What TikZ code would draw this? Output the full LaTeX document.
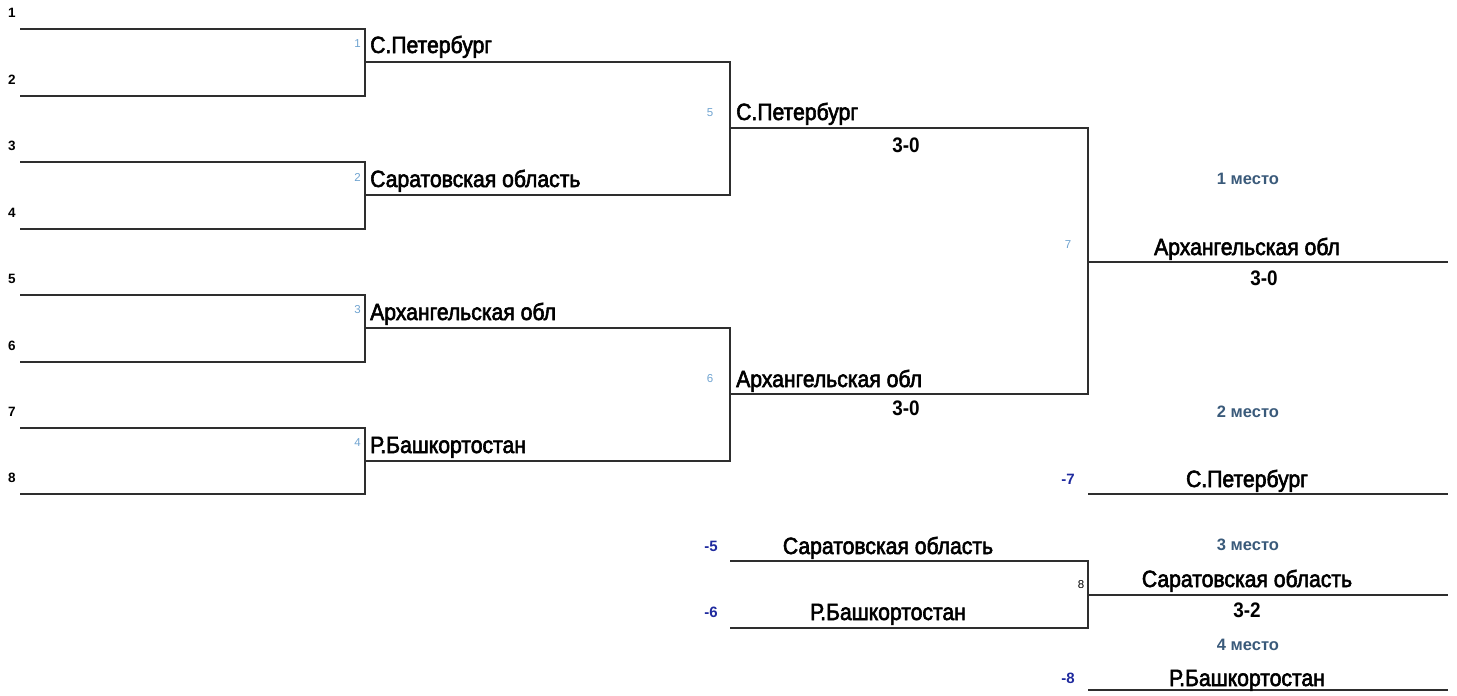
\documentclass[tikz,border=0pt]{standalone}
\usepackage{fontspec}
\setmainfont{Liberation Sans}
\newfontfamily\teamfont[FakeStretch=0.9,FakeBold=2.5]{Liberation Sans}
\newfontfamily\scorefont[FakeStretch=0.9]{Liberation Sans Bold}
\definecolor{ln}{HTML}{2E2E2E}
\definecolor{seedblue}{HTML}{6FA3D0}
\definecolor{placec}{HTML}{3A5A7A}
\definecolor{loserc}{HTML}{1F2A9E}
\begin{document}
\begin{tikzpicture}[x=1pt,y=-1pt,
  br/.style={draw=ln,line width=1.6pt},
  team/.style={inner sep=0pt,font=\teamfont\fontsize{23.5}{26}\selectfont},
  teamw/.style={team,anchor=base west},
  teamc/.style={team,anchor=base},
  score/.style={inner sep=0pt,font=\scorefont\fontsize{21}{24}\selectfont},
  seed/.style={inner sep=0pt,font=\bfseries\fontsize{13.5}{15}\selectfont},
  mnum/.style={inner sep=0pt,text=seedblue,font=\fontsize{11.5}{13}\selectfont},
  place/.style={inner sep=0pt,text=placec,font=\bfseries\fontsize{16.5}{18}\selectfont},
  loser/.style={inner sep=0pt,text=loserc,font=\bfseries\fontsize{15}{18}\selectfont}]
\useasboundingbox (0,0) rectangle (1457,696);

% round 1 slots
\foreach \i/\y in {1/29,2/96,3/162,4/229,5/295,6/362,7/428,8/494}{
  \coordinate (s\i L) at (20,\y);
  \coordinate (s\i R) at (365,\y);
  \node[seed] (n\i) at (12,\y-16) {\i};
}
% round 1 matches
\foreach \m/\y in {1/62,2/195,3/328,4/461}{
  \coordinate (m\m L) at (365,\y);
  \coordinate (m\m R) at (730,\y);
}
\draw[br] (s1L) -- (s1R) -- (s2R) -- (s2L);
\draw[br] (s3L) -- (s3R) -- (s4R) -- (s4L);
\draw[br] (s5L) -- (s5R) -- (s6R) -- (s6L);
\draw[br] (s7L) -- (s7R) -- (s8R) -- (s8L);
\draw[br] (m1L) -- (m1R) -- (m2R) -- (m2L);
\draw[br] (m3L) -- (m3R) -- (m4R) -- (m4L);

\node[mnum] (k1) at (357.5,44) {1};
\node[mnum] (k2) at (357.5,177) {2};
\node[mnum] (k3) at (357.5,310) {3};
\node[mnum] (k4) at (357.5,443) {4};
\node[teamw] (t1) at (370,53) {С.Петербург};
\node[teamw] (t2) at (370,187) {Саратовская область};
\node[teamw] (t3) at (370,320) {Архангельская обл};
\node[teamw] (t4) at (370,453) {Р.Башкортостан};

% semifinals
\coordinate (m5L) at (730,128);
\coordinate (m5R) at (1088,128);
\coordinate (m6L) at (730,394);
\coordinate (m6R) at (1088,394);
\coordinate (fL) at (1088,262);
\coordinate (fR) at (1448,262);
\draw[br] (m5L) -- (m5R) -- (m6R) -- (m6L);
\draw[br] (fL) -- (fR);

\node[mnum] (k5) at (710,113) {5};
\node[teamw] (t5) at (736,120) {С.Петербург};
\node[score] (r5) at (906,145) {3-0};
\node[mnum] (k6) at (710,379) {6};
\node[teamw] (t6) at (736,387) {Архангельская обл};
\node[score] (r6) at (906,408) {3-0};

% final
\node[place] (p1) at (1248,179) {1 место};
\node[mnum] (k7) at (1068,245) {7};
\node[teamc] (t7) at (1247,255) {Архангельская обл};
\node[score] (r7) at (1264,278) {3-0};

\node[place] (p2) at (1248,412) {2 место};
\node[loser] (l7) at (1068,479) {-7};
\coordinate (sL) at (1088,494);
\coordinate (sR) at (1448,494);
\draw[br] (sL) -- (sR);
\node[teamc] (t8) at (1247,487) {С.Петербург};

% third place
\coordinate (aL) at (730,561);
\coordinate (aR) at (1088,561);
\coordinate (bL) at (730,628);
\coordinate (bR) at (1088,628);
\draw[br] (aL) -- (aR) -- (bR) -- (bL);
\node[loser] (l5) at (711,546) {-5};
\node[teamc] (t9) at (888,554) {Саратовская область};
\node[loser] (l6) at (711,612) {-6};
\node[teamc] (t10) at (888,620) {Р.Башкортостан};
\node[inner sep=0pt,font=\fontsize{11.5}{12}\selectfont] (k8) at (1081,585) {8};
\coordinate (tL) at (1088,595);
\coordinate (tR) at (1448,595);
\draw[br] (tL) -- (tR);
\node[place] (p3) at (1248,545) {3 место};
\node[teamc] (t11) at (1247,587) {Саратовская область};
\node[score] (r8) at (1247,610) {3-2};
\node[place] (p4) at (1248,645) {4 место};
\node[loser] (l8) at (1068,678) {-8};
\coordinate (uL) at (1088,690);
\coordinate (uR) at (1448,690);
\draw[br] (uL) -- (uR);
\node[teamc] (t12) at (1247,686) {Р.Башкортостан};
\end{tikzpicture}
\end{document}
